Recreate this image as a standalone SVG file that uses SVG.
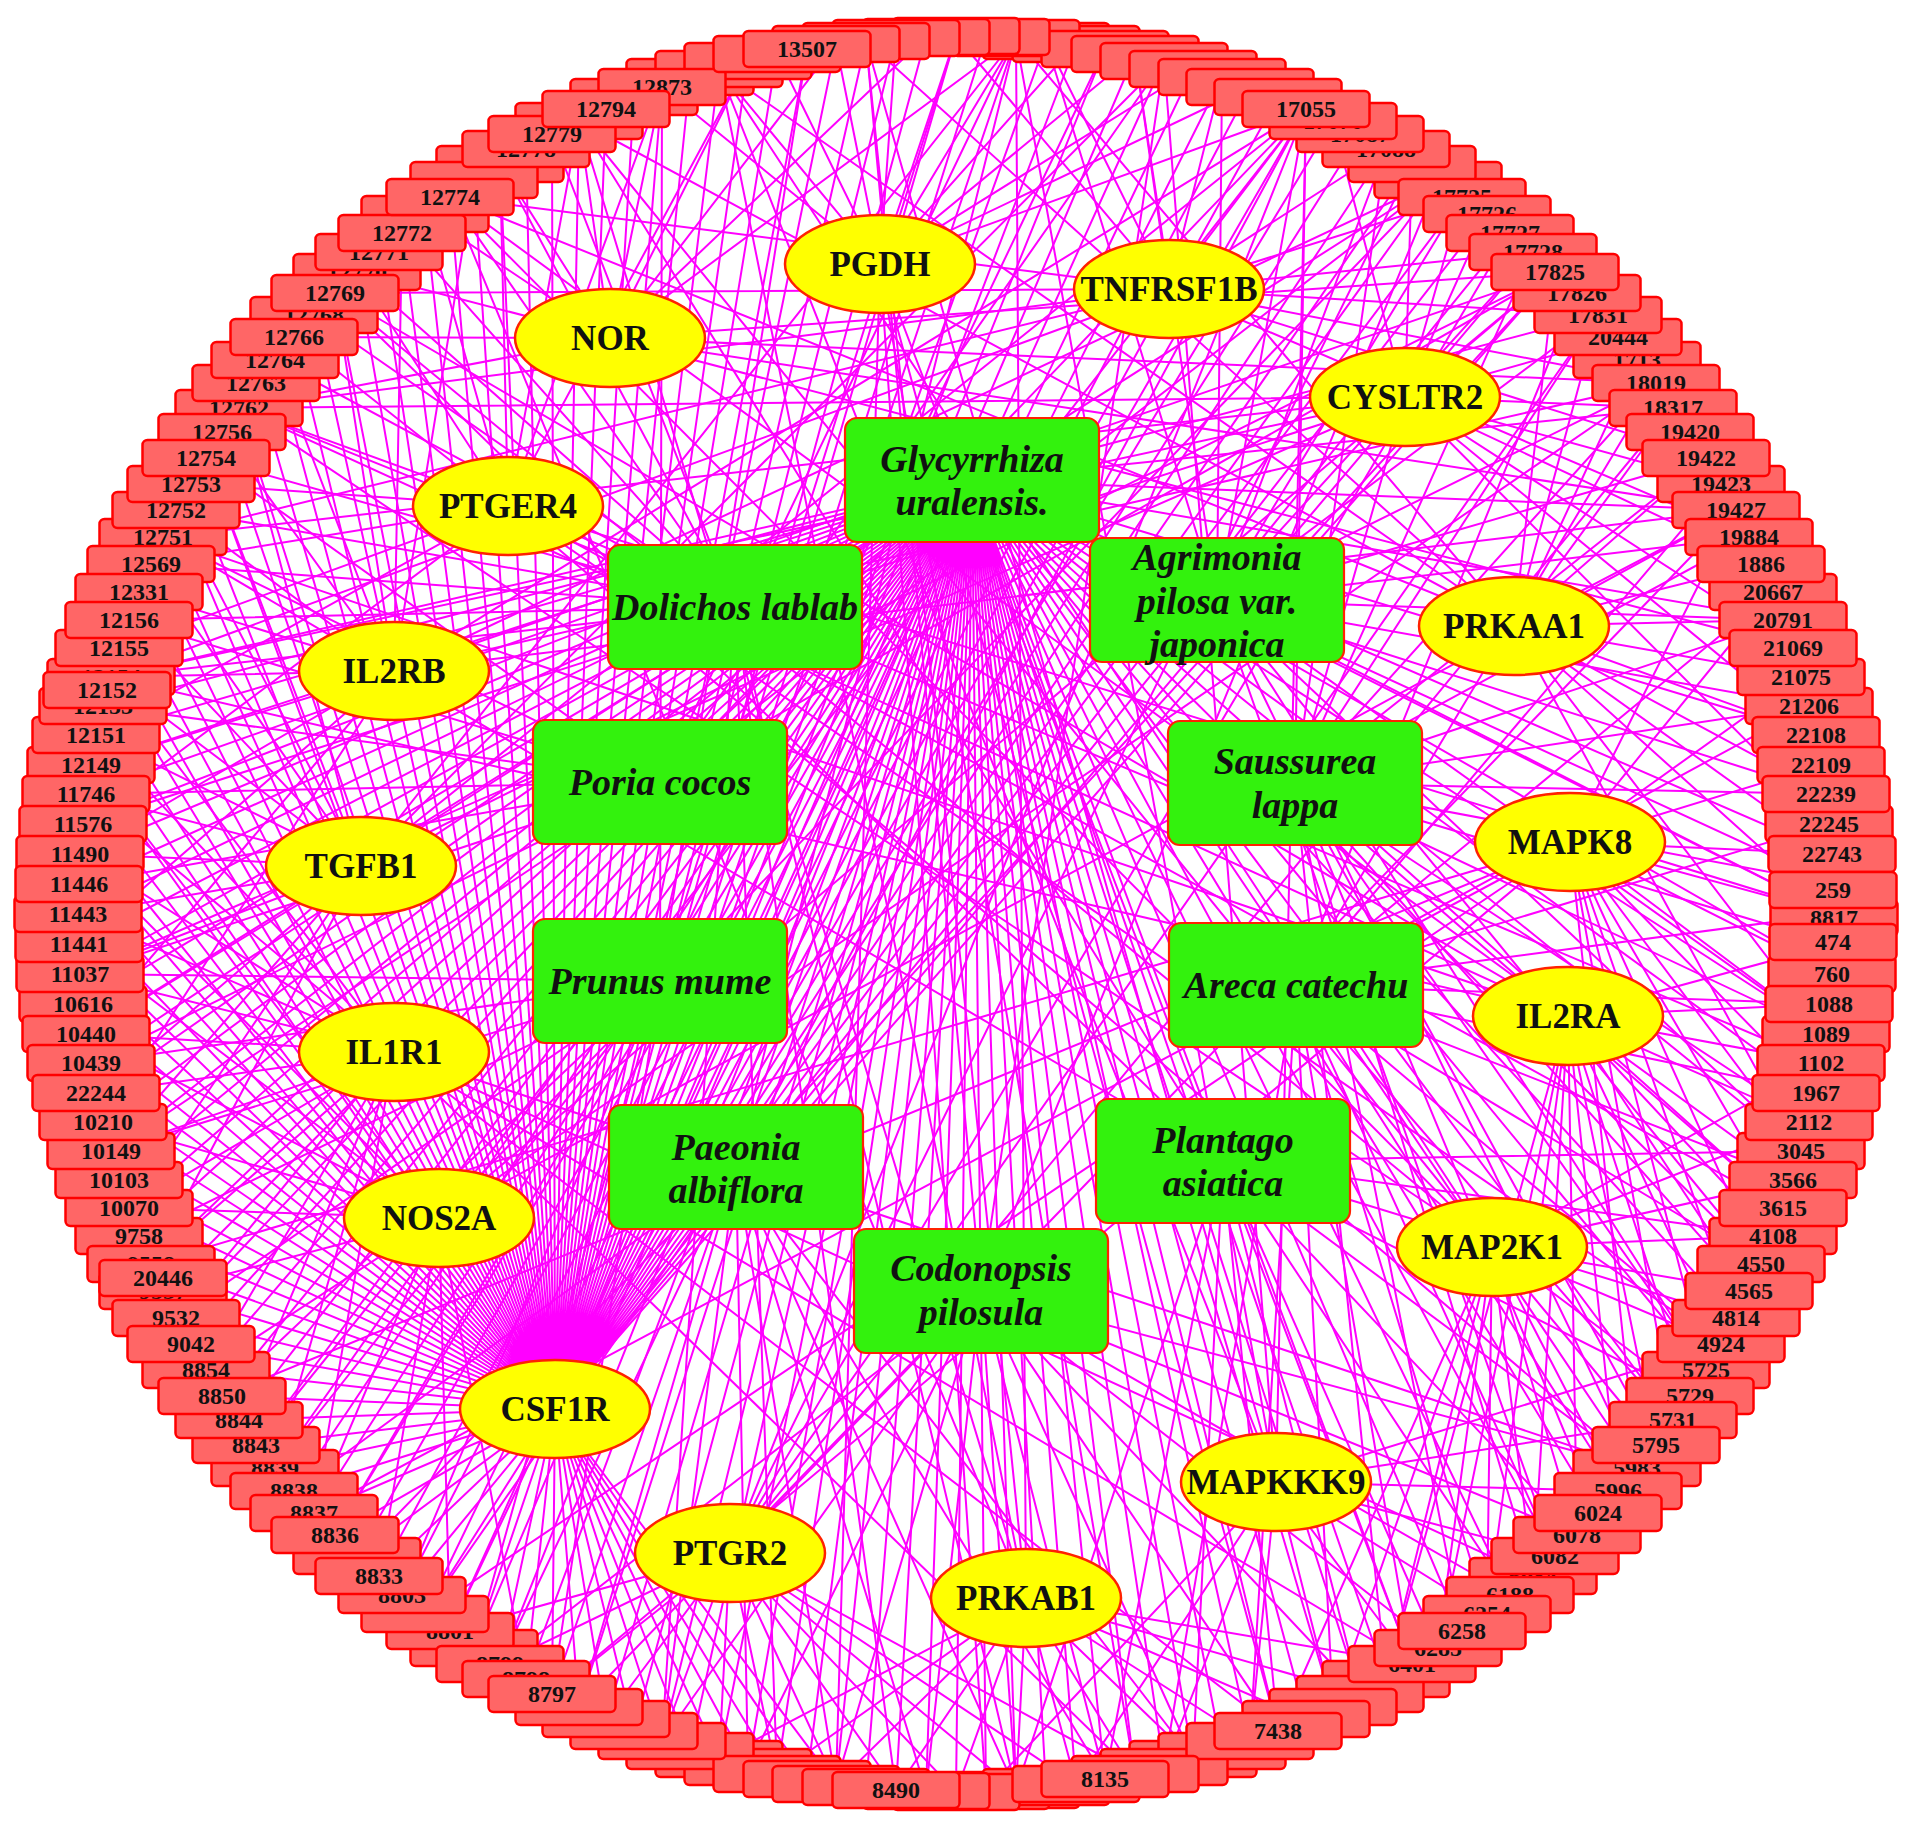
<svg xmlns="http://www.w3.org/2000/svg" width="1913" height="1828" viewBox="0 0 1913 1828">
<defs>
<style>
.e path{fill:none;stroke:#ff00ff;stroke-width:2;stroke-linejoin:round}
#ring use{fill:#ff6666;stroke:#ff0000;stroke-width:2.5}
#ring text{font:bold 24px 'Liberation Serif','Times New Roman',serif;text-anchor:middle;fill:#111}
.t ellipse{fill:#ffff00;stroke:#ff2200;stroke-width:2.5}
.t text{font:bold 35px 'Liberation Serif','Times New Roman',serif;text-anchor:middle;fill:#111}
.h rect{fill:#33f20d;stroke:#ff2200;stroke-width:2.2}
.h text{font:italic bold 38px 'Liberation Serif','Times New Roman',serif;text-anchor:middle;fill:#111}
</style>
<rect id="rr" x="-63.5" y="-18" width="127" height="36" rx="5"/>
</defs>
<rect width="1913" height="1828" fill="#ffffff"/>
<g id="edges" class="e">
<path id="e-CSF1R" d="M836 1784L555 1409L807 1779M777 1774L555 1409L748 1767M719 1759L555 1409L690 1751M662 1741L555 1409L634 1731M606 1719L555 1409L579 1707M552 1694L555 1409L526 1679M500 1664L555 1409L474 1648M450 1631L555 1409L425 1614M402 1595L555 1409L379 1576M357 1556L555 1409L335 1535M314 1513L555 1409L294 1491M275 1468L555 1409L256 1445M239 1420L555 1409L222 1396M206 1370L555 1409L191 1344M176 1318L555 1409L163 1291M151 1264L555 1409L139 1236M129 1208L555 1409L119 1180M111 1151L555 1409L103 1122M96 1093L555 1409L91 1063M86 1034L555 1409L83 1004M80 974L555 1409L79 944M78 914L555 1409L79 884M80 854L555 1409L83 824M86 794L555 1409L91 765M96 735L555 1409L103 706M111 677L555 1409L119 648M129 620L555 1409L139 592M151 564L555 1409L163 537M176 510L555 1409L191 484M206 458L555 1409L222 432M239 408L555 1409L256 383M275 360L555 1409L294 337M314 315L555 1409L335 293M357 272L555 1409L379 252M402 233L555 1409L425 214M450 197L555 1409L474 180M500 164L555 1409L526 149M552 134L555 1409L579 121M606 109L555 1409L634 97M662 87L555 1409L690 77M719 69L555 1409L748 61M777 54L555 1409L807 49M836 44L555 1409L866 41M896 38L555 1409L926 37M956 36L555 1409L986 37M1016 38L555 1409L1046 41M1076 44L555 1409L1105 49M1135 54L555 1409L1164 61M1193 69L555 1409L1222 77M1250 87L555 1409L1278 97M1306 109L555 1409L1333 121M1360 134L555 1409L1386 149M1412 164L555 1409L1438 180M1462 197L555 1409L1487 214M1510 233L555 1409L1533 252M1555 272L555 1409"/>
<path id="e-Glycyrrhiza" d="M1412 1664L972 480L1386 1679M1360 1694L972 480L1333 1707M1306 1719L972 480L1278 1731M1250 1741L972 480L1222 1751M1193 1759L972 480L1164 1767M1135 1774L972 480L1105 1779M1076 1784L972 480L1046 1787M1016 1790L972 480L986 1791M956 1792L972 480L926 1791M896 1790L972 480L866 1787M836 1784L972 480L807 1779M777 1774L972 480L748 1767M719 1759L972 480L690 1751M662 1741L972 480L634 1731M606 1719L972 480L579 1707M552 1694L972 480L526 1679M500 1664L972 480L474 1648M450 1631L972 480L425 1614M402 1595L972 480L379 1576M357 1556L972 480L335 1535M314 1513L972 480L294 1491M275 1468L972 480L256 1445M239 1420L972 480L222 1396M206 1370L972 480L191 1344M176 1318L972 480L163 1291M151 1264L972 480L139 1236M129 1208L972 480L119 1180M111 1151L972 480L103 1122M96 1093L972 480L91 1063M86 1034L972 480L83 1004M80 974L972 480L79 944M78 914L972 480L79 884M80 854L972 480L83 824M86 794L972 480L91 765M96 735L972 480L103 706M111 677L972 480M1834 914L972 480L1832 974M1826 1034L972 480L1816 1093M1801 1151L972 480L1783 1208M1761 1264L972 480L1736 1318M1706 1370L972 480L1673 1420M1637 1468L972 480L1598 1513M1555 1556L972 480L1510 1595M1462 1631L972 480L1598 315M1673 408L972 480L1736 510M1783 620L972 480L1816 735M1832 854L972 480"/>
<path id="e-Dolichos" d="M111 677L735 607L129 620M151 564L735 607L176 510M206 458L735 607L239 408M275 360L735 607L314 315M357 272L735 607L402 233M450 197L735 607L500 164M552 134L735 607L1016 1790M896 1790L735 607L777 1774M662 1741L735 607"/>
<path id="e-Agrimonia" d="M1046 41L1217 600L1135 54M1222 77L1217 600L1306 109M1386 149L1217 600L1462 197M1533 252L1217 600L1598 315M1656 383L1217 600L1706 458M1749 537L1217 600L1783 620M1809 706L1217 600L1826 794M1833 884L1217 600L1834 914M1826 1034L1217 600L1801 1151M1761 1264L1217 600L1706 1370M1637 1468L1217 600L1555 1556"/>
<path id="e-Poria" d="M111 1151L660 782L91 1063M80 974L660 782L79 884M86 794L660 782L103 706M129 620L660 782L163 537M206 458L660 782L1016 38M1164 61L660 782L1306 109M1438 180L660 782L1555 272"/>
<path id="e-Saussurea" d="M1306 109L1295 783L1386 149M1462 197L1295 783L1533 252M1598 315L1295 783L1656 383M1706 458L1295 783L1749 537M1783 620L1295 783L1809 706M1826 794L1295 783L1833 884M1833 944L1295 783L1826 1034M1809 1122L1295 783L1783 1208M1749 1291L1295 783L1706 1370M1656 1445L1295 783L1598 1513M1533 1576L1295 783L1462 1631M1386 1679L1295 783"/>
<path id="e-Prunus" d="M552 1694L660 981L474 1648M402 1595L660 981L335 1535M275 1468L660 981L222 1396M176 1318L660 981L139 1236M111 1151L660 981L91 1063M80 974L660 981L662 87M807 49L660 981L956 36M1105 49L660 981"/>
<path id="e-Areca" d="M1834 914L1296 985L1829 1004M1816 1093L1296 985L1793 1180M1761 1264L1296 985L1721 1344M1673 1420L1296 985L1618 1491M1555 1556L1296 985L1487 1614M1412 1664L1296 985L1333 1707M1250 1741L1296 985L1164 1767M1577 293L1296 985L1656 383M1721 484L1296 985L1773 592M1809 706L1296 985L1829 824"/>
<path id="e-Paeonia" d="M1193 1759L736 1167L1105 1779M1016 1790L736 1167L926 1791M836 1784L736 1167L748 1767M662 1741L736 1167L579 1707M500 1664L736 1167L425 1614M357 1556L736 1167L294 1491M1016 38L736 1167L1306 109M1555 272L736 1167"/>
<path id="e-Plantago" d="M1801 1151L1223 1161L1773 1236M1736 1318L1223 1161L1690 1396M1637 1468L1223 1161L1577 1535M1510 1595L1223 1161L1438 1648M1360 1694L1223 1161L1278 1731M1193 1759L1223 1161L1105 1779M1016 1790L1223 1161M163 537L1223 1161L335 293M579 121L1223 1161"/>
<path id="e-Codonopsis" d="M1637 1468L981 1291L1577 1535M1510 1595L981 1291L1438 1648M1360 1694L981 1291L1278 1731M1193 1759L981 1291L1105 1779M1016 1790L981 1291L926 1791M836 1784L981 1291L748 1767M662 1741L981 1291L579 1707M500 1664L981 1291L866 41M1164 61L981 1291L1438 180"/>
<path id="e-PGDH" d="M662 87L880 264L719 69M777 54L880 264L836 44M896 38L880 264L956 36M1016 38L880 264L1076 44M1135 54L880 264L1193 69M1250 87L880 264L1306 109M1412 1664L880 264L1278 1731M1135 1774L880 264L986 1791M836 1784L880 264"/>
<path id="e-TNFRSF1B" d="M956 36L1169 289L1046 41M1135 54L1169 289L1222 77M1306 109L1169 289L1386 149M1462 197L1169 289L1533 252M1598 315L1169 289L1656 383M1706 458L1169 289L1749 537M111 677L1169 289L163 537M239 408L1169 289L335 293M450 197L1169 289"/>
<path id="e-NOR" d="M239 408L610 338L294 337M357 272L610 338L425 214M500 164L610 338L579 121M662 87L610 338L748 61M836 44L610 338L926 37M1016 38L610 338L1555 272M1656 383L610 338L1736 510M1793 648L610 338"/>
<path id="e-CYSLTR2" d="M1333 121L1405 397L1412 164M1487 214L1405 397L1555 272M1618 337L1405 397L1673 408M1721 484L1405 397L1761 564M1793 648L1405 397L1816 735M1829 824L1405 397L80 974M83 824L1405 397L111 677M163 537L1405 397L239 408"/>
<path id="e-PTGER4" d="M83 824L508 506L96 735M119 648L508 506L151 564M191 484L508 506L239 408M294 337L508 506L357 272M425 214L508 506L500 164M579 121L508 506L662 87M748 61L508 506L1834 914M1821 1063L508 506L1783 1208M1721 1344L508 506L1637 1468"/>
<path id="e-IL2RB" d="M103 1122L394 671L86 1034M79 944L394 671L80 854M91 765L394 671L111 677M139 592L394 671L176 510M222 432L394 671L275 360M335 293L394 671L402 233M474 180L394 671L1306 109M1438 180L394 671L1555 272M1656 383L394 671L1736 510"/>
<path id="e-PRKAA1" d="M1555 272L1514 626L1598 315M1637 360L1514 626L1673 408M1706 458L1514 626L1736 510M1761 564L1514 626L1783 620M1801 677L1514 626L1816 735M1826 794L1514 626L1832 854M450 197L1514 626L579 121M719 69L1514 626L866 41M1016 38L1514 626L1834 914M1826 1034L1514 626L1801 1151"/>
<path id="e-TGFB1" d="M151 1264L361 866L129 1208M111 1151L361 866L96 1093M86 1034L361 866L80 974M78 914L361 866L80 854M86 794L361 866L96 735M111 677L361 866L129 620M151 564L361 866L176 510M206 458L361 866L239 408M1016 38L361 866L1164 61M1306 109L361 866L1438 180M1555 272L361 866"/>
<path id="e-MAPK8" d="M1834 914L1570 842L1832 974M1826 1034L1570 842L1816 1093M1801 1151L1570 842L1783 1208M1761 1264L1570 842L1736 1318M1706 1370L1570 842L1673 1420M1637 1468L1570 842L1736 510M1773 592L1570 842L1801 677M1821 765L1570 842L1832 854M552 1694L1570 842L425 1614M314 1513L1570 842L222 1396M151 1264L1570 842"/>
<path id="e-IL1R1" d="M314 1513L394 1052L275 1468M239 1420L394 1052L206 1370M176 1318L394 1052L151 1264M129 1208L394 1052L111 1151M96 1093L394 1052L86 1034M80 974L394 1052L78 914M80 854L394 1052L86 794M96 735L394 1052L111 677M1637 1468L394 1052L1533 1576M1412 1664L394 1052L1278 1731M1135 1774L394 1052"/>
<path id="e-IL2RA" d="M1833 944L1568 1016L1829 1004M1821 1063L1568 1016L1809 1122M1793 1180L1568 1016L1773 1236M1749 1291L1568 1016L1721 1344M1690 1396L1568 1016L1656 1445M1618 1491L1568 1016L1577 1535M1533 1576L1568 1016L1487 1614M1438 1648L1568 1016L1386 1679M111 677L1568 1016L163 537M239 408L1568 1016L335 293M450 197L1568 1016"/>
<path id="e-NOS2A" d="M526 1679L439 1218L450 1631M379 1576L439 1218L314 1513M256 1445L439 1218L206 1370M163 1291L439 1218L129 1208M103 1122L439 1218L86 1034M79 944L439 1218L80 854M91 765L439 1218L1306 109M1438 180L439 1218L1555 272M1656 383L439 1218L1736 510"/>
<path id="e-MAP2K1" d="M1821 1063L1492 1247L1809 1122M1793 1180L1492 1247L1773 1236M1749 1291L1492 1247L1721 1344M1690 1396L1492 1247L1656 1445M1618 1491L1492 1247L1577 1535M1533 1576L1492 1247L1487 1614M1438 1648L1492 1247L1386 1679M1333 1707L1492 1247L1278 1731M239 408L1492 1247L335 293M450 197L1492 1247L579 121M719 69L1492 1247"/>
<path id="e-MAPKKK9" d="M1721 1344L1276 1482L1673 1420M1618 1491L1276 1482L1555 1556M1487 1614L1276 1482L1412 1664M1333 1707L1276 1482L1250 1741M1164 1767L1276 1482L1076 1784M986 1791L1276 1482L719 69M866 41L1276 1482L1016 38M1164 61L1276 1482L1306 109"/>
<path id="e-PTGR2" d="M1135 1774L730 1553L1076 1784M1016 1790L730 1553L956 1792M896 1790L730 1553L836 1784M777 1774L730 1553L719 1759M662 1741L730 1553L606 1719M552 1694L730 1553L500 1664M450 1631L730 1553L1306 109M1412 164L730 1553L1510 233M1598 315L730 1553L1673 408M1736 510L730 1553"/>
<path id="e-PRKAB1" d="M1412 1664L1026 1598L1360 1694M1306 1719L1026 1598L1250 1741M1193 1759L1026 1598L1135 1774M1076 1784L1026 1598L1016 1790M956 1792L1026 1598L896 1790M836 1784L1026 1598L777 1774M719 1759L1026 1598L450 197M579 121L1026 1598L719 69M866 41L1026 1598L1016 38"/>
</g>
<g id="ring">
<g id="c141" transform="translate(1046 41)"><use href="#rr"/></g>
<g id="c142" transform="translate(1076 44)"><use href="#rr"/></g>
<g id="c140" transform="translate(1016 38)"><use href="#rr"/></g>
<g id="c143" transform="translate(1105 49)"><use href="#rr"/></g>
<g id="c54" transform="translate(719 1759)"><use href="#rr"/></g>
<g id="c139" transform="translate(986 37)"><use href="#rr"/></g>
<g id="c144" transform="translate(1135 54)"><use href="#rr"/></g>
<g id="c53" transform="translate(748 1767)"><use href="#rr"/></g>
<g id="c55" transform="translate(690 1751)"><use href="#rr"/></g>
<g id="c138" transform="translate(956 36)"><use href="#rr"/></g>
<g id="c145" transform="translate(1164 61)"><use href="#rr"/></g>
<g id="c155" transform="translate(1438 180)"><use href="#rr"/><text y="8">17723</text></g>
<g id="c52" transform="translate(777 1774)"><use href="#rr"/></g>
<g id="c56" transform="translate(662 1741)"><use href="#rr"/></g>
<g id="c81" transform="translate(139 1236)"><use href="#rr"/><text y="8">9758</text></g>
<g id="c82" transform="translate(129 1208)"><use href="#rr"/><text y="8">10070</text></g>
<g id="c97" transform="translate(91 765)"><use href="#rr"/><text y="8">12149</text></g>
<g id="c98" transform="translate(96 735)"><use href="#rr"/><text y="8">12151</text></g>
<g id="c137" transform="translate(926 37)"><use href="#rr"/></g>
<g id="c146" transform="translate(1193 69)"><use href="#rr"/></g>
<g id="c154" transform="translate(1412 164)"><use href="#rr"/></g>
<g id="c156" transform="translate(1462 197)"><use href="#rr"/><text y="8">17725</text></g>
<g id="c164" transform="translate(1637 360)"><use href="#rr"/><text y="8">1713</text></g>
<g id="c16" transform="translate(1706 1370)"><use href="#rr"/><text y="8">5725</text></g>
<g id="c25" transform="translate(1533 1576)"><use href="#rr"/><text y="8">6084</text></g>
<g id="c31" transform="translate(1386 1679)"><use href="#rr"/><text y="8">6544</text></g>
<g id="c32" transform="translate(1360 1694)"><use href="#rr"/></g>
<g id="c38" transform="translate(1193 1759)"><use href="#rr"/></g>
<g id="c44" transform="translate(1016 1790)"><use href="#rr"/></g>
<g id="c45" transform="translate(986 1791)"><use href="#rr"/></g>
<g id="c51" transform="translate(807 1779)"><use href="#rr"/><text y="8">8507</text></g>
<g id="c57" transform="translate(634 1731)"><use href="#rr"/></g>
<g id="c63" transform="translate(474 1648)"><use href="#rr"/><text y="8">8800</text></g>
<g id="c64" transform="translate(450 1631)"><use href="#rr"/><text y="8">8801</text></g>
<g id="c72" transform="translate(275 1468)"><use href="#rr"/><text y="8">8839</text></g>
<g id="c80" transform="translate(151 1264)"><use href="#rr"/><text y="8">9558</text></g>
<g id="c83" transform="translate(119 1180)"><use href="#rr"/><text y="8">10103</text></g>
<g id="c89" transform="translate(83 1004)"><use href="#rr"/><text y="8">10616</text></g>
<g id="c90" transform="translate(80 974)"><use href="#rr"/><text y="8">11037</text></g>
<g id="c96" transform="translate(86 794)"><use href="#rr"/><text y="8">11746</text></g>
<g id="c99" transform="translate(103 706)"><use href="#rr"/><text y="8">12153</text></g>
<g id="c105" transform="translate(163 537)"><use href="#rr"/><text y="8">12751</text></g>
<g id="c129" transform="translate(690 77)"><use href="#rr"/></g>
<g id="c130" transform="translate(719 69)"><use href="#rr"/></g>
<g id="c136" transform="translate(896 38)"><use href="#rr"/></g>
<g id="c147" transform="translate(1222 77)"><use href="#rr"/></g>
<g id="c153" transform="translate(1386 149)"><use href="#rr"/><text y="8">17088</text></g>
<g id="c157" transform="translate(1487 214)"><use href="#rr"/><text y="8">17726</text></g>
<g id="c163" transform="translate(1618 337)"><use href="#rr"/><text y="8">20444</text></g>
<g id="c165" transform="translate(1656 383)"><use href="#rr"/><text y="8">18019</text></g>
<g id="c8" transform="translate(1801 1151)"><use href="#rr"/><text y="8">3045</text></g>
<g id="c15" transform="translate(1721 1344)"><use href="#rr"/><text y="8">4924</text></g>
<g id="c17" transform="translate(1690 1396)"><use href="#rr"/><text y="8">5729</text></g>
<g id="c24" transform="translate(1555 1556)"><use href="#rr"/><text y="8">6082</text></g>
<g id="c26" transform="translate(1510 1595)"><use href="#rr"/><text y="8">6188</text></g>
<g id="c30" transform="translate(1412 1664)"><use href="#rr"/><text y="8">6401</text></g>
<g id="c33" transform="translate(1333 1707)"><use href="#rr"/></g>
<g id="c37" transform="translate(1222 1751)"><use href="#rr"/></g>
<g id="c39" transform="translate(1164 1767)"><use href="#rr"/></g>
<g id="c43" transform="translate(1046 1787)"><use href="#rr"/></g>
<g id="c46" transform="translate(956 1792)"><use href="#rr"/></g>
<g id="c50" transform="translate(836 1784)"><use href="#rr"/></g>
<g id="c58" transform="translate(606 1719)"><use href="#rr"/></g>
<g id="c62" transform="translate(500 1664)"><use href="#rr"/><text y="8">8799</text></g>
<g id="c65" transform="translate(425 1614)"><use href="#rr"/></g>
<g id="c71" transform="translate(294 1491)"><use href="#rr"/><text y="8">8838</text></g>
<g id="c73" transform="translate(256 1445)"><use href="#rr"/><text y="8">8843</text></g>
<g id="c79" transform="translate(163 1291)"><use href="#rr"/><text y="8">9537</text></g>
<g id="c84" transform="translate(111 1151)"><use href="#rr"/><text y="8">10149</text></g>
<g id="c88" transform="translate(86 1034)"><use href="#rr"/><text y="8">10440</text></g>
<g id="c91" transform="translate(79 944)"><use href="#rr"/><text y="8">11441</text></g>
<g id="c95" transform="translate(83 824)"><use href="#rr"/><text y="8">11576</text></g>
<g id="c100" transform="translate(111 677)"><use href="#rr"/><text y="8">12154</text></g>
<g id="c104" transform="translate(151 564)"><use href="#rr"/><text y="8">12569</text></g>
<g id="c106" transform="translate(176 510)"><use href="#rr"/><text y="8">12752</text></g>
<g id="c110" transform="translate(239 408)"><use href="#rr"/><text y="8">12762</text></g>
<g id="c111" transform="translate(256 383)"><use href="#rr"/><text y="8">12763</text></g>
<g id="c122" transform="translate(500 164)"><use href="#rr"/><text y="8">12776</text></g>
<g id="c127" transform="translate(634 97)"><use href="#rr"/></g>
<g id="c131" transform="translate(748 61)"><use href="#rr"/></g>
<g id="c135" transform="translate(866 41)"><use href="#rr"/></g>
<g id="c148" transform="translate(1250 87)"><use href="#rr"/></g>
<g id="c152" transform="translate(1360 134)"><use href="#rr"/><text y="8">17087</text></g>
<g id="c158" transform="translate(1510 233)"><use href="#rr"/><text y="8">17727</text></g>
<g id="c162" transform="translate(1598 315)"><use href="#rr"/><text y="8">17831</text></g>
<g id="c166" transform="translate(1673 408)"><use href="#rr"/><text y="8">18317</text></g>
<g id="c177" transform="translate(1809 706)"><use href="#rr"/><text y="8">21206</text></g>
<g id="c178" transform="translate(1816 735)"><use href="#rr"/><text y="8">22108</text></g>
<g id="c0" transform="translate(1834 918)"><use href="#rr"/><text y="8">8817</text></g>
<g id="c2" transform="translate(1832 974)"><use href="#rr"/><text y="8">760</text></g>
<g id="c4" transform="translate(1826 1034)"><use href="#rr"/><text y="8">1089</text></g>
<g id="c5" transform="translate(1821 1063)"><use href="#rr"/><text y="8">1102</text></g>
<g id="c7" transform="translate(1809 1122)"><use href="#rr"/><text y="8">2112</text></g>
<g id="c9" transform="translate(1793 1180)"><use href="#rr"/><text y="8">3566</text></g>
<g id="c11" transform="translate(1773 1236)"><use href="#rr"/><text y="8">4108</text></g>
<g id="c12" transform="translate(1761 1264)"><use href="#rr"/><text y="8">4550</text></g>
<g id="c14" transform="translate(1736 1318)"><use href="#rr"/><text y="8">4814</text></g>
<g id="c18" transform="translate(1673 1420)"><use href="#rr"/><text y="8">5731</text></g>
<g id="c20" transform="translate(1637 1468)"><use href="#rr"/><text y="8">5983</text></g>
<g id="c21" transform="translate(1618 1491)"><use href="#rr"/><text y="8">5996</text></g>
<g id="c23" transform="translate(1577 1535)"><use href="#rr"/><text y="8">6078</text></g>
<g id="c27" transform="translate(1487 1614)"><use href="#rr"/><text y="8">6254</text></g>
<g id="c29" transform="translate(1438 1648)"><use href="#rr"/><text y="8">6285</text></g>
<g id="c34" transform="translate(1306 1719)"><use href="#rr"/></g>
<g id="c36" transform="translate(1250 1741)"><use href="#rr"/></g>
<g id="c40" transform="translate(1135 1774)"><use href="#rr"/></g>
<g id="c42" transform="translate(1076 1784)"><use href="#rr"/></g>
<g id="c47" transform="translate(926 1791)"><use href="#rr"/></g>
<g id="c49" transform="translate(866 1787)"><use href="#rr"/></g>
<g id="c59" transform="translate(579 1707)"><use href="#rr"/></g>
<g id="c61" transform="translate(526 1679)"><use href="#rr"/><text y="8">8798</text></g>
<g id="c66" transform="translate(402 1595)"><use href="#rr"/><text y="8">8803</text></g>
<g id="c68" transform="translate(357 1556)"><use href="#rr"/></g>
<g id="c70" transform="translate(314 1513)"><use href="#rr"/><text y="8">8837</text></g>
<g id="c74" transform="translate(239 1420)"><use href="#rr"/><text y="8">8844</text></g>
<g id="c76" transform="translate(206 1370)"><use href="#rr"/><text y="8">8854</text></g>
<g id="c78" transform="translate(176 1318)"><use href="#rr"/><text y="8">9532</text></g>
<g id="c85" transform="translate(103 1122)"><use href="#rr"/><text y="8">10210</text></g>
<g id="c87" transform="translate(91 1063)"><use href="#rr"/><text y="8">10439</text></g>
<g id="c92" transform="translate(78 914)"><use href="#rr"/><text y="8">11443</text></g>
<g id="c94" transform="translate(80 854)"><use href="#rr"/><text y="8">11490</text></g>
<g id="c101" transform="translate(119 648)"><use href="#rr"/><text y="8">12155</text></g>
<g id="c103" transform="translate(139 592)"><use href="#rr"/><text y="8">12331</text></g>
<g id="c107" transform="translate(191 484)"><use href="#rr"/><text y="8">12753</text></g>
<g id="c109" transform="translate(222 432)"><use href="#rr"/><text y="8">12756</text></g>
<g id="c112" transform="translate(275 360)"><use href="#rr"/><text y="8">12764</text></g>
<g id="c114" transform="translate(314 315)"><use href="#rr"/><text y="8">12768</text></g>
<g id="c116" transform="translate(357 272)"><use href="#rr"/><text y="8">12770</text></g>
<g id="c117" transform="translate(379 252)"><use href="#rr"/><text y="8">12771</text></g>
<g id="c119" transform="translate(425 214)"><use href="#rr"/></g>
<g id="c121" transform="translate(474 180)"><use href="#rr"/></g>
<g id="c123" transform="translate(526 149)"><use href="#rr"/><text y="8">12778</text></g>
<g id="c125" transform="translate(579 121)"><use href="#rr"/></g>
<g id="c128" transform="translate(662 87)"><use href="#rr"/><text y="8">12873</text></g>
<g id="c132" transform="translate(777 54)"><use href="#rr"/></g>
<g id="c134" transform="translate(836 44)"><use href="#rr"/></g>
<g id="c149" transform="translate(1278 97)"><use href="#rr"/></g>
<g id="c151" transform="translate(1333 121)"><use href="#rr"/><text y="8">17070</text></g>
<g id="c159" transform="translate(1533 252)"><use href="#rr"/><text y="8">17728</text></g>
<g id="c161" transform="translate(1577 293)"><use href="#rr"/><text y="8">17826</text></g>
<g id="c167" transform="translate(1690 432)"><use href="#rr"/><text y="8">19420</text></g>
<g id="c169" transform="translate(1721 484)"><use href="#rr"/><text y="8">19423</text></g>
<g id="c170" transform="translate(1736 510)"><use href="#rr"/><text y="8">19427</text></g>
<g id="c173" transform="translate(1773 592)"><use href="#rr"/><text y="8">20667</text></g>
<g id="c174" transform="translate(1783 620)"><use href="#rr"/><text y="8">20791</text></g>
<g id="c176" transform="translate(1801 677)"><use href="#rr"/><text y="8">21075</text></g>
<g id="c179" transform="translate(1821 765)"><use href="#rr"/><text y="8">22109</text></g>
<g id="c181" transform="translate(1829 824)"><use href="#rr"/><text y="8">22245</text></g>
<g id="c1" transform="translate(1833 942)"><use href="#rr"/><text y="8">474</text></g>
<g id="c3" transform="translate(1829 1004)"><use href="#rr"/><text y="8">1088</text></g>
<g id="c6" transform="translate(1816 1093)"><use href="#rr"/><text y="8">1967</text></g>
<g id="c10" transform="translate(1783 1208)"><use href="#rr"/><text y="8">3615</text></g>
<g id="c13" transform="translate(1749 1291)"><use href="#rr"/><text y="8">4565</text></g>
<g id="c19" transform="translate(1656 1445)"><use href="#rr"/><text y="8">5795</text></g>
<g id="c22" transform="translate(1598 1513)"><use href="#rr"/><text y="8">6024</text></g>
<g id="c28" transform="translate(1462 1631)"><use href="#rr"/><text y="8">6258</text></g>
<g id="c35" transform="translate(1278 1731)"><use href="#rr"/><text y="8">7438</text></g>
<g id="c41" transform="translate(1105 1779)"><use href="#rr"/><text y="8">8135</text></g>
<g id="c48" transform="translate(896 1790)"><use href="#rr"/><text y="8">8490</text></g>
<g id="c60" transform="translate(552 1694)"><use href="#rr"/><text y="8">8797</text></g>
<g id="c67" transform="translate(379 1576)"><use href="#rr"/><text y="8">8833</text></g>
<g id="c69" transform="translate(335 1535)"><use href="#rr"/><text y="8">8836</text></g>
<g id="c75" transform="translate(222 1396)"><use href="#rr"/><text y="8">8850</text></g>
<g id="c77" transform="translate(191 1344)"><use href="#rr"/><text y="8">9042</text></g>
<g id="c86" transform="translate(96 1093)"><use href="#rr"/><text y="8">22244</text></g>
<g id="c93" transform="translate(79 884)"><use href="#rr"/><text y="8">11446</text></g>
<g id="c102" transform="translate(129 620)"><use href="#rr"/><text y="8">12156</text></g>
<g id="c108" transform="translate(206 458)"><use href="#rr"/><text y="8">12754</text></g>
<g id="c113" transform="translate(294 337)"><use href="#rr"/><text y="8">12766</text></g>
<g id="c115" transform="translate(335 293)"><use href="#rr"/><text y="8">12769</text></g>
<g id="c118" transform="translate(402 233)"><use href="#rr"/><text y="8">12772</text></g>
<g id="c120" transform="translate(450 197)"><use href="#rr"/><text y="8">12774</text></g>
<g id="c124" transform="translate(552 134)"><use href="#rr"/><text y="8">12779</text></g>
<g id="c126" transform="translate(606 109)"><use href="#rr"/><text y="8">12794</text></g>
<g id="c133" transform="translate(807 49)"><use href="#rr"/><text y="8">13507</text></g>
<g id="c150" transform="translate(1306 109)"><use href="#rr"/><text y="8">17055</text></g>
<g id="c160" transform="translate(1555 272)"><use href="#rr"/><text y="8">17825</text></g>
<g id="c168" transform="translate(1706 458)"><use href="#rr"/><text y="8">19422</text></g>
<g id="c171" transform="translate(1749 537)"><use href="#rr"/><text y="8">19884</text></g>
<g id="c172" transform="translate(1761 564)"><use href="#rr"/><text y="8">1886</text></g>
<g id="c175" transform="translate(1793 648)"><use href="#rr"/><text y="8">21069</text></g>
<g id="c180" transform="translate(1826 794)"><use href="#rr"/><text y="8">22239</text></g>
<g id="c182" transform="translate(1832 854)"><use href="#rr"/><text y="8">22743</text></g>
<g id="c183" transform="translate(1833 890)"><use href="#rr"/><text y="8">259</text></g>
<g id="c20446" transform="translate(163 1278)"><use href="#rr"/><text y="8">20446</text></g>
<g id="c12152" transform="translate(107 690)"><use href="#rr"/><text y="8">12152</text></g>
</g>
<g id="herbs">
<g id="Glycyrrhiza" class="h"><rect x="845" y="418" width="254" height="124" rx="12"/><text x="972" y="472">Glycyrrhiza</text><text x="972" y="515">uralensis.</text></g>
<g id="Dolichos" class="h"><rect x="608" y="545" width="254" height="124" rx="12"/><text x="735" y="620">Dolichos lablab</text></g>
<g id="Agrimonia" class="h"><rect x="1090" y="538" width="254" height="124" rx="12"/><text x="1217" y="570">Agrimonia</text><text x="1217" y="614">pilosa var.</text><text x="1217" y="657">japonica</text></g>
<g id="Poria" class="h"><rect x="533" y="720" width="254" height="124" rx="12"/><text x="660" y="795">Poria cocos</text></g>
<g id="Saussurea" class="h"><rect x="1168" y="721" width="254" height="124" rx="12"/><text x="1295" y="774">Saussurea</text><text x="1295" y="818">lappa</text></g>
<g id="Prunus" class="h"><rect x="533" y="919" width="254" height="124" rx="12"/><text x="660" y="994">Prunus mume</text></g>
<g id="Areca" class="h"><rect x="1169" y="923" width="254" height="124" rx="12"/><text x="1296" y="998">Areca catechu</text></g>
<g id="Paeonia" class="h"><rect x="609" y="1105" width="254" height="124" rx="12"/><text x="736" y="1160">Paeonia</text><text x="736" y="1203">albiflora</text></g>
<g id="Plantago" class="h"><rect x="1096" y="1099" width="254" height="124" rx="12"/><text x="1223" y="1153">Plantago</text><text x="1223" y="1196">asiatica</text></g>
<g id="Codonopsis" class="h"><rect x="854" y="1229" width="254" height="124" rx="12"/><text x="981" y="1281">Codonopsis</text><text x="981" y="1325">pilosula</text></g>
</g>
<g id="targets">
<g id="PGDH" class="t"><ellipse cx="880" cy="264" rx="95" ry="49"/><text x="880" y="276">PGDH</text></g>
<g id="TNFRSF1B" class="t"><ellipse cx="1169" cy="289" rx="95" ry="49"/><text x="1169" y="301">TNFRSF1B</text></g>
<g id="NOR" class="t"><ellipse cx="610" cy="338" rx="95" ry="49"/><text x="610" y="350">NOR</text></g>
<g id="CYSLTR2" class="t"><ellipse cx="1405" cy="397" rx="95" ry="49"/><text x="1405" y="409">CYSLTR2</text></g>
<g id="PTGER4" class="t"><ellipse cx="508" cy="506" rx="95" ry="49"/><text x="508" y="518">PTGER4</text></g>
<g id="IL2RB" class="t"><ellipse cx="394" cy="671" rx="95" ry="49"/><text x="394" y="683">IL2RB</text></g>
<g id="PRKAA1" class="t"><ellipse cx="1514" cy="626" rx="95" ry="49"/><text x="1514" y="638">PRKAA1</text></g>
<g id="TGFB1" class="t"><ellipse cx="361" cy="866" rx="95" ry="49"/><text x="361" y="878">TGFB1</text></g>
<g id="MAPK8" class="t"><ellipse cx="1570" cy="842" rx="95" ry="49"/><text x="1570" y="854">MAPK8</text></g>
<g id="IL1R1" class="t"><ellipse cx="394" cy="1052" rx="95" ry="49"/><text x="394" y="1064">IL1R1</text></g>
<g id="IL2RA" class="t"><ellipse cx="1568" cy="1016" rx="95" ry="49"/><text x="1568" y="1028">IL2RA</text></g>
<g id="NOS2A" class="t"><ellipse cx="439" cy="1218" rx="95" ry="49"/><text x="439" y="1230">NOS2A</text></g>
<g id="MAP2K1" class="t"><ellipse cx="1492" cy="1247" rx="95" ry="49"/><text x="1492" y="1259">MAP2K1</text></g>
<g id="CSF1R" class="t"><ellipse cx="555" cy="1409" rx="95" ry="49"/><text x="555" y="1421">CSF1R</text></g>
<g id="MAPKKK9" class="t"><ellipse cx="1276" cy="1482" rx="95" ry="49"/><text x="1276" y="1494">MAPKKK9</text></g>
<g id="PTGR2" class="t"><ellipse cx="730" cy="1553" rx="95" ry="49"/><text x="730" y="1565">PTGR2</text></g>
<g id="PRKAB1" class="t"><ellipse cx="1026" cy="1598" rx="95" ry="49"/><text x="1026" y="1610">PRKAB1</text></g>
</g>
</svg>
